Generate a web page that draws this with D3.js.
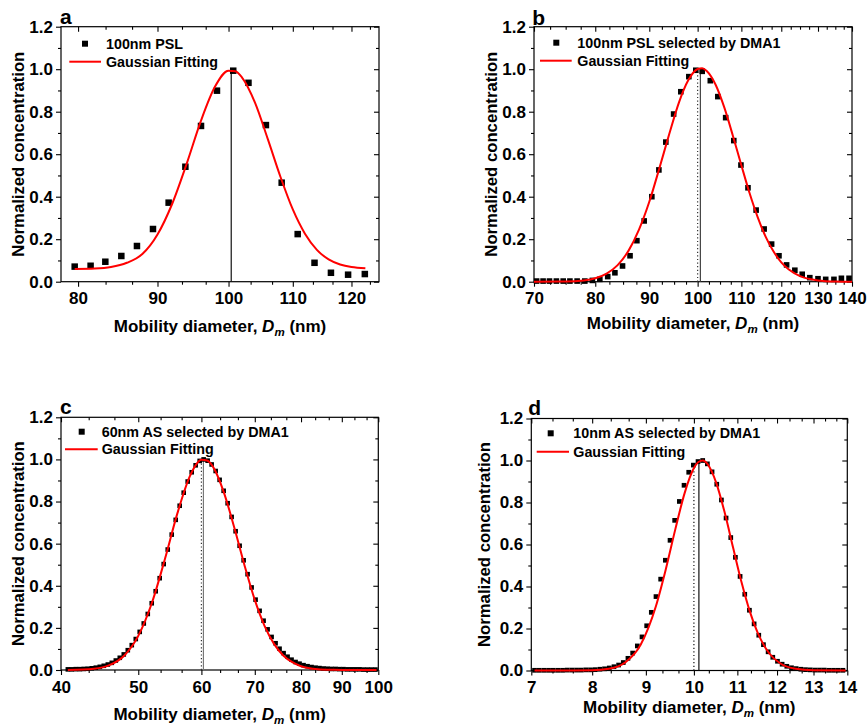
<!DOCTYPE html>
<html><head><meta charset="utf-8">
<script src="https://cdn.jsdelivr.net/npm/d3@7"></script>
<style>
body{margin:0;background:#fff}
svg{display:block}
text{font-family:"Liberation Sans",Arial,sans-serif;font-weight:bold;fill:#000}
</style>
</head><body>
<svg id="chart" width="868" height="725"></svg>
<script>
// ---------- DATA ----------
const yTicks = [0, 0.2, 0.4, 0.6, 0.8, 1.0, 1.2];
const yMinor = [0.1, 0.3, 0.5, 0.7, 0.9, 1.1];

// panel a
const aXRange = [78, 125];
const aXTicks = [80, 90, 100, 110, 120];
const aXMinor = [83.33, 86.67, 93.33, 96.67, 103.33, 106.67, 113.33, 116.67, 123.33];
const aDiam = [79.6, 81.5, 83.3, 85.3, 87.3, 89.4, 91.5, 93.8, 96.0, 98.3, 100.7, 103.0, 105.7, 108.2, 110.8, 113.6, 116.4, 119.4, 122.4];
const aConc = [0.071, 0.075, 0.094, 0.121, 0.168, 0.248, 0.372, 0.541, 0.733, 0.899, 0.993, 0.936, 0.737, 0.466, 0.224, 0.089, 0.042, 0.033, 0.036];
const aFitDiam = [79.6, 82, 84, 86, 88, 90, 92, 94, 96, 98, 100, 101, 102, 104, 106, 108, 110, 112, 114, 116, 118, 120, 122.5];
const aFitConc = [0.060, 0.062, 0.069, 0.089, 0.130, 0.222, 0.368, 0.557, 0.758, 0.917, 0.993, 0.990, 0.962, 0.843, 0.671, 0.494, 0.340, 0.226, 0.150, 0.105, 0.081, 0.069, 0.063];
const aRefX = [100.4];
const aRefTop = [0.993];
const aLegend = ["100nm PSL", "Gaussian Fitting"];

// panel b
const bXRange = [70, 140];
const bXTicks = [70, 80, 90, 100, 110, 120, 130, 140];
const bXMinor = [72.5, 75, 77.5, 82.5, 85, 87.5, 92.5, 95, 97.5, 102.5, 105, 107.5, 112.5, 115, 117.5, 122.5, 125, 127.5, 132.5, 135, 137.5];
const bDiam = [70.4, 71.4, 72.4, 73.5, 74.6, 75.7, 76.9, 78.2, 79.5, 80.8, 82.2, 83.5, 84.9, 86.3, 87.6, 89.0, 90.5, 91.9, 93.3, 94.9, 96.4, 98.1, 99.6, 101.0, 102.8, 104.5, 106.3, 108.2, 109.9, 111.6, 113.6, 115.6, 117.5, 119.4, 121.4, 123.6, 125.6, 127.7, 130.0, 132.2, 134.6, 136.8, 139.1];
const bConc = [0.003, 0.003, 0.003, 0.003, 0.003, 0.003, 0.003, 0.003, 0.006, 0.011, 0.024, 0.042, 0.074, 0.122, 0.193, 0.286, 0.400, 0.526, 0.657, 0.789, 0.894, 0.965, 0.995, 0.990, 0.946, 0.871, 0.772, 0.664, 0.549, 0.442, 0.337, 0.248, 0.177, 0.122, 0.079, 0.054, 0.035, 0.019, 0.014, 0.011, 0.011, 0.016, 0.016];
const bFitDiam = [70, 75, 78, 80, 82, 84, 86, 88, 90, 92, 94, 96, 98, 100, 101, 102, 104, 106, 108, 110, 112, 114, 116, 118, 120, 122, 125, 130, 135, 140];
const bFitConc = [0.000, 0.001, 0.006, 0.016, 0.038, 0.078, 0.145, 0.245, 0.376, 0.534, 0.695, 0.843, 0.949, 1.001, 1.005, 0.992, 0.927, 0.819, 0.686, 0.548, 0.416, 0.303, 0.211, 0.142, 0.091, 0.057, 0.026, 0.006, 0.001, 0.000];
const bRefX = [100.0, 100.6];
const bRefTop = [1.0, 1.0];
const bLegend = ["100nm PSL selected by DMA1", "Gaussian Fitting"];

// panel c
const cXRange = [40, 100];
const cXTicks = [40, 50, 60, 70, 80, 90, 100];
const cXMinor = [43.33, 46.67, 53.33, 56.67, 63.33, 66.67, 73.33, 76.67, 83.33, 86.67, 93.33, 96.67];
const cDiam = [40.80, 41.27, 41.75, 42.24, 42.73, 43.22, 43.72, 44.23, 44.74, 45.26, 45.79, 46.32, 46.86, 47.40, 47.95, 48.51, 49.07, 49.64, 50.21, 50.80, 51.39, 51.98, 52.58, 53.19, 53.81, 54.44, 55.07, 55.71, 56.35, 57.01, 57.67, 58.34, 59.01, 59.70, 60.39, 61.09, 61.80, 62.52, 63.24, 63.98, 64.72, 65.47, 66.23, 67.00, 67.78, 68.56, 69.36, 70.16, 70.98, 71.80, 72.64, 73.48, 74.33, 75.19, 76.07, 76.95, 77.84, 78.75, 79.66, 80.58, 81.52, 82.47, 83.42, 84.39, 85.37, 86.36, 87.36, 88.38, 89.40, 90.44, 91.49, 92.55, 93.62, 94.71, 95.81, 96.92, 98.04, 99.18];
const cConc = [0.003, 0.003, 0.004, 0.004, 0.005, 0.006, 0.008, 0.011, 0.015, 0.020, 0.026, 0.034, 0.045, 0.058, 0.074, 0.094, 0.118, 0.147, 0.181, 0.221, 0.266, 0.317, 0.374, 0.436, 0.503, 0.572, 0.643, 0.713, 0.780, 0.842, 0.895, 0.939, 0.972, 0.993, 1.000, 0.994, 0.976, 0.945, 0.903, 0.851, 0.792, 0.727, 0.659, 0.590, 0.521, 0.455, 0.392, 0.334, 0.281, 0.234, 0.193, 0.157, 0.127, 0.101, 0.080, 0.063, 0.049, 0.038, 0.030, 0.023, 0.018, 0.014, 0.011, 0.009, 0.007, 0.006, 0.005, 0.005, 0.004, 0.004, 0.003, 0.003, 0.003, 0.003, 0.002, 0.002, 0.002, 0.002];
const cFitDiam = [40.8, 44, 46, 48, 50, 52, 54, 56, 58, 59, 60, 61, 62, 64, 66, 68, 70, 72, 74, 76, 78, 80, 84, 88, 92, 99.5];
const cFitConc = [0.000, 0.006, 0.023, 0.068, 0.162, 0.318, 0.527, 0.746, 0.918, 0.972, 0.998, 0.995, 0.967, 0.845, 0.674, 0.493, 0.333, 0.210, 0.124, 0.069, 0.037, 0.018, 0.004, 0.001, 0.000, 0.000];
const cRefX = [60.0, 60.35];
const cRefTop = [0.99, 1.0];
const cLegend = ["60nm AS selected by DMA1", "Gaussian Fitting"];

// panel d
const dXRange = [7, 14];
const dXTicks = [7, 8, 9, 10, 11, 12, 13, 14];
const dXMinor = [7.333, 7.667, 8.333, 8.667, 9.333, 9.667, 10.333, 10.667, 11.333, 11.667, 12.333, 12.667, 13.333, 13.667];
const dDiam = [7.050, 7.123, 7.196, 7.270, 7.345, 7.421, 7.497, 7.574, 7.652, 7.731, 7.811, 7.891, 7.972, 8.055, 8.138, 8.221, 8.306, 8.392, 8.478, 8.565, 8.653, 8.743, 8.833, 8.924, 9.016, 9.108, 9.202, 9.297, 9.393, 9.490, 9.587, 9.686, 9.786, 9.887, 9.988, 10.091, 10.195, 10.300, 10.406, 10.514, 10.622, 10.731, 10.842, 10.953, 11.066, 11.180, 11.295, 11.412, 11.529, 11.648, 11.768, 11.889, 12.012, 12.135, 12.260, 12.387, 12.514, 12.643, 12.773, 12.905, 13.038, 13.172, 13.308, 13.445, 13.583, 13.723, 13.865];
const dConc = [0.001, 0.001, 0.001, 0.001, 0.001, 0.001, 0.001, 0.002, 0.002, 0.002, 0.002, 0.003, 0.003, 0.004, 0.006, 0.008, 0.012, 0.018, 0.026, 0.038, 0.058, 0.083, 0.117, 0.160, 0.213, 0.277, 0.352, 0.435, 0.525, 0.620, 0.715, 0.805, 0.882, 0.944, 0.978, 0.995, 1.000, 0.984, 0.946, 0.887, 0.812, 0.726, 0.633, 0.539, 0.448, 0.363, 0.287, 0.222, 0.168, 0.123, 0.089, 0.063, 0.044, 0.030, 0.020, 0.013, 0.009, 0.006, 0.004, 0.003, 0.002, 0.002, 0.002, 0.001, 0.001, 0.001, 0.001];
const dFitDiam = [7.05, 7.5, 8.0, 8.3, 8.6, 8.9, 9.2, 9.4, 9.6, 9.8, 10.0, 10.1, 10.2, 10.3, 10.5, 10.7, 10.9, 11.1, 11.3, 11.5, 11.8, 12.1, 12.5, 13.0, 13.95];
const dFitConc = [0.000, 0.000, 0.001, 0.008, 0.038, 0.124, 0.306, 0.480, 0.672, 0.846, 0.964, 0.993, 1.000, 0.984, 0.895, 0.751, 0.583, 0.421, 0.284, 0.180, 0.081, 0.032, 0.008, 0.001, 0.000];
const dRefX = [10.0, 10.11];
const dRefTop = [0.965, 0.995];
const dLegend = ["10nm AS selected by DMA1", "Gaussian Fitting"];

// ---------- LAYOUT / STYLE ----------
const panels = [
  {letter:"a", xRange:aXRange, xTicks:aXTicks, xMinor:aXMinor, diam:aDiam, conc:aConc, fitD:aFitDiam, fitC:aFitConc,
   refX:aRefX, refTop:aRefTop, refStyle:[{dash:null,color:"#111"}], legend:aLegend,
   L:61, R:379, T:26.7, B:281.7, sq:6.5, mx:85, my:43.7, lx1:69.3, lx2:101, ly:61.7, tx:106,
   ytX:17.8, xtY:331.7, letX:60, letY:24},
  {letter:"b", xRange:bXRange, xTicks:bXTicks, xMinor:bXMinor, diam:bDiam, conc:bConc, fitD:bFitDiam, fitC:bFitConc,
   refX:bRefX, refTop:bRefTop, refStyle:[{dash:"1.2,2.4",color:"#333"},{dash:null,color:"#444"}], legend:bLegend,
   L:534, R:852, T:26.7, B:281.7, sq:5.6, mx:556.3, my:42.7, lx1:540, lx2:571.7, ly:60.7, tx:577.3,
   ytX:490.7, xtY:328.5, letX:532.3, letY:24.7},
  {letter:"c", xRange:cXRange, xTicks:cXTicks, xMinor:cXMinor, diam:cDiam, conc:cConc, fitD:cFitDiam, fitC:cFitConc,
   refX:cRefX, refTop:cRefTop, refStyle:[{dash:"1.2,2.4",color:"#333"},{dash:null,color:"#777"}], legend:cLegend,
   L:61, R:378.3, T:417.3, B:670, sq:4.6, mx:81.7, my:431.7, lx1:65, lx2:97.7, ly:449.3, tx:101.7,
   ytX:17.7, xtY:720, letX:60, letY:414},
  {letter:"d", xRange:dXRange, xTicks:dXTicks, xMinor:dXMinor, diam:dDiam, conc:dConc, fitD:dFitDiam, fitC:dFitConc,
   refX:dRefX, refTop:dRefTop, refStyle:[{dash:"1.2,2.4",color:"#111"},{dash:null,color:"#111"}], legend:dLegend,
   L:531.3, R:847.3, T:418.5, B:670.5, sq:4.7, mx:550.7, my:433.3, lx1:536.7, lx2:569, ly:451.7, tx:573.3,
   ytX:484, xtY:713, letX:528.3, letY:415}
];

const svg = d3.select("#chart");
const TICK_FS = 17, XTITLE_FS = 17, YTITLE_FS = 16.7, LEG_FS = 14.3, LET_FS = 21;

function styleAxis(sel, labels) {
  sel.attr("font-family", null).attr("font-size", null);
  sel.select(".domain").remove();
  sel.selectAll(".tick line").attr("stroke", "#000").attr("stroke-width", 1.1);
  if (labels) sel.selectAll(".tick text").style("font-size", TICK_FS + "px").attr("fill", "#000");
  else sel.selectAll(".tick text").remove();
}

panels.forEach(p => {
  const x = d3.scaleLog().domain(p.xRange).range([p.L, p.R]);
  const y = d3.scaleLinear().domain([0, 1.2]).range([p.B, p.T]);
  const g = svg.append("g");

  g.append("g").attr("transform", `translate(0,${p.B})`)
    .call(d3.axisBottom(x).tickValues(p.xTicks).tickFormat(d => d).tickSize(5).tickPadding(5.5))
    .call(s => styleAxis(s, true));
  g.append("g").attr("transform", `translate(0,${p.B})`)
    .call(d3.axisBottom(x).tickValues(p.xMinor).tickFormat("").tickSize(3))
    .call(s => styleAxis(s, false));
  g.append("g").attr("transform", `translate(${p.L},0)`)
    .call(d3.axisLeft(y).tickValues(yTicks).tickFormat(d3.format(".1f")).tickSize(5).tickPadding(3))
    .call(s => styleAxis(s, true));
  g.append("g").attr("transform", `translate(${p.L},0)`)
    .call(d3.axisLeft(y).tickValues(yMinor).tickFormat("").tickSize(3))
    .call(s => styleAxis(s, false));
  g.append("g").attr("transform", `translate(0,${p.T})`)
    .call(d3.axisTop(x).tickValues(p.xTicks).tickFormat("").tickSize(-5))
    .call(s => styleAxis(s, false));
  g.append("g").attr("transform", `translate(0,${p.T})`)
    .call(d3.axisTop(x).tickValues(p.xMinor).tickFormat("").tickSize(-3))
    .call(s => styleAxis(s, false));
  g.append("g").attr("transform", `translate(${p.R},0)`)
    .call(d3.axisRight(y).tickValues(yTicks).tickFormat("").tickSize(-5))
    .call(s => styleAxis(s, false));
  g.append("g").attr("transform", `translate(${p.R},0)`)
    .call(d3.axisRight(y).tickValues(yMinor).tickFormat("").tickSize(-3))
    .call(s => styleAxis(s, false));

  g.append("rect").attr("x", p.L).attr("y", p.T)
    .attr("width", p.R - p.L).attr("height", p.B - p.T)
    .attr("fill", "none").attr("stroke", "#000").attr("stroke-width", 1.2);

  p.refX.forEach((v, i) => {
    const st = p.refStyle[i];
    g.append("line").attr("x1", x(v)).attr("x2", x(v))
      .attr("y1", y(0)).attr("y2", y(p.refTop[i]))
      .attr("stroke", st.color).attr("stroke-width", 1.2)
      .attr("stroke-dasharray", st.dash);
  });

  const pts = p.diam.map((d, i) => [d, p.conc[i]]);
  g.append("g").selectAll("rect").data(pts).join("rect")
    .attr("x", d => x(d[0]) - p.sq / 2).attr("y", d => y(d[1]) - p.sq / 2)
    .attr("width", p.sq).attr("height", p.sq).attr("fill", "#000");

  const fit = p.fitD.map((d, i) => [d, p.fitC[i]]);
  g.append("path").datum(fit)
    .attr("d", d3.line().x(d => x(d[0])).y(d => y(d[1])).curve(d3.curveMonotoneX))
    .attr("fill", "none").attr("stroke", "#ff0000").attr("stroke-width", 2);

  g.append("rect").attr("x", p.mx - 3).attr("y", p.my - 3).attr("width", 6).attr("height", 6).attr("fill", "#000");
  g.append("text").attr("x", p.tx).attr("y", p.my).attr("dy", "0.36em")
    .style("font-size", LEG_FS + "px").text(p.legend[0]);
  g.append("line").attr("x1", p.lx1).attr("x2", p.lx2).attr("y1", p.ly).attr("y2", p.ly)
    .attr("stroke", "#ff0000").attr("stroke-width", 2);
  g.append("text").attr("x", p.tx).attr("y", p.ly).attr("dy", "0.36em")
    .style("font-size", LEG_FS + "px").text(p.legend[1]);

  const xt = g.append("text").attr("x", (p.L + p.R) / 2).attr("y", p.xtY)
    .attr("text-anchor", "middle").style("font-size", XTITLE_FS + "px");
  xt.append("tspan").text("Mobility diameter, ");
  xt.append("tspan").style("font-style", "italic").text("D");
  xt.append("tspan").style("font-style", "italic").style("font-size", (XTITLE_FS * 0.68) + "px")
    .attr("dy", "4").text("m");
  xt.append("tspan").attr("dy", "-4").text(" (nm)");

  g.append("text").attr("transform", `translate(${p.ytX},${(p.T + p.B) / 2}) rotate(-90)`)
    .attr("text-anchor", "middle").attr("dy", "0.36em")
    .style("font-size", YTITLE_FS + "px").text("Normalized concentration");

  g.append("text").attr("x", p.letX).attr("y", p.letY).style("font-size", LET_FS + "px").text(p.letter);
});
</script>
</body></html>
